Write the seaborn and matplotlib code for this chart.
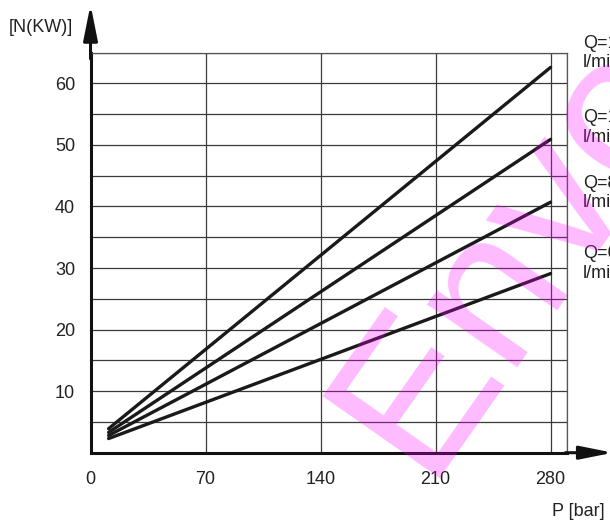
import pandas as pd
import numpy as np
import matplotlib
matplotlib.use("Agg")
import matplotlib.pyplot as plt
import seaborn as sns

# data
flows = ["Q=120", "Q=100", "Q=80", "Q=60"]
p_start = 11
p_end = 280
n_start = [3.9, 3.3, 2.8, 2.3]
n_end = [62.6, 50.9, 40.7, 29.1]
x_ticks = [0, 70, 140, 210, 280]
y_ticks = [10, 20, 30, 40, 50, 60]

rows = []
for q, a, b in zip(flows, n_start, n_end):
    rows.append({"Q": q, "P": p_start, "N": a})
    rows.append({"Q": q, "P": p_end, "N": b})
df = pd.DataFrame(rows)

sns.set_style("white")
plt.rcParams["font.family"] = ["Liberation Sans", "DejaVu Sans"]
fs = 13
txt_col = "#222222"

fig = plt.figure(figsize=(6.1, 5.25), dpi=100)
ax = fig.add_axes([0.1484, 0.1377, 0.9295 - 0.1484, 0.8998 - 0.1377])

sns.lineplot(data=df, x="P", y="N", hue="Q", palette=["#1a1a1a"] * 4,
             linewidth=2.4, legend=False, ax=ax, zorder=3)

ax.set_xlim(0, 290)
ax.set_ylim(0, 65)
ax.set_xticks(x_ticks)
ax.set_xticks([290], minor=True)
ax.set_yticks(y_ticks)
ax.set_yticks(np.arange(5, 66, 5), minor=True)
ax.grid(True, which="both", color="#3a3a3a", linewidth=0.9)
ax.tick_params(length=0, which="both", labelsize=fs, colors=txt_col)
ax.tick_params(axis="x", pad=13.5)
ax.tick_params(axis="y", pad=11)
ax.set_xlabel("")
ax.set_ylabel("")

for s in ["top", "right"]:
    ax.spines[s].set_color("#555555")
    ax.spines[s].set_linewidth(0.9)
for s in ["left", "bottom"]:
    ax.spines[s].set_color("#111111")
    ax.spines[s].set_linewidth(2.2)

# axis arrows
ax.annotate("", xy=(0, 72.8), xytext=(0, 64), annotation_clip=False,
            arrowprops=dict(arrowstyle="-|>,head_length=2.15,head_width=0.43",
                            color="#111111", lw=2.2, shrinkA=0, shrinkB=0))
ax.annotate("", xy=(318, 0), xytext=(289, 0), annotation_clip=False,
            arrowprops=dict(arrowstyle="-|>,head_length=2.0,head_width=0.4",
                            color="#111111", lw=2.2, shrinkA=0, shrinkB=0))

fig.text(40.5 / 610, 1 - 27 / 525, "[N(KW)]", fontsize=fs, va="center", ha="center", color=txt_col)
fig.text(605 / 610, 1 - 511.5 / 525, "P [bar]", fontsize=fs, va="center", ha="right", color=txt_col)

# flow labels, partly cut by the right edge as in the original
q_base = [48, 122, 188, 258]
unit_base = [67, 142, 207, 278]
for txt, yq, yu in zip(flows, q_base, unit_base):
    fig.text(583 / 610, 1 - yq / 525, txt, fontsize=fs, va="baseline", ha="left", color=txt_col)
    fig.text(583 / 610, 1 - yu / 525, "l/min", fontsize=fs, va="baseline", ha="left", color=txt_col)

# watermark
fig.text(0.845, 0.52, "Envo", fontsize=150, rotation=55, color="#ff00ff", alpha=0.27,
         ha="center", va="center", zorder=10)

fig.savefig("out.png", dpi=100)
